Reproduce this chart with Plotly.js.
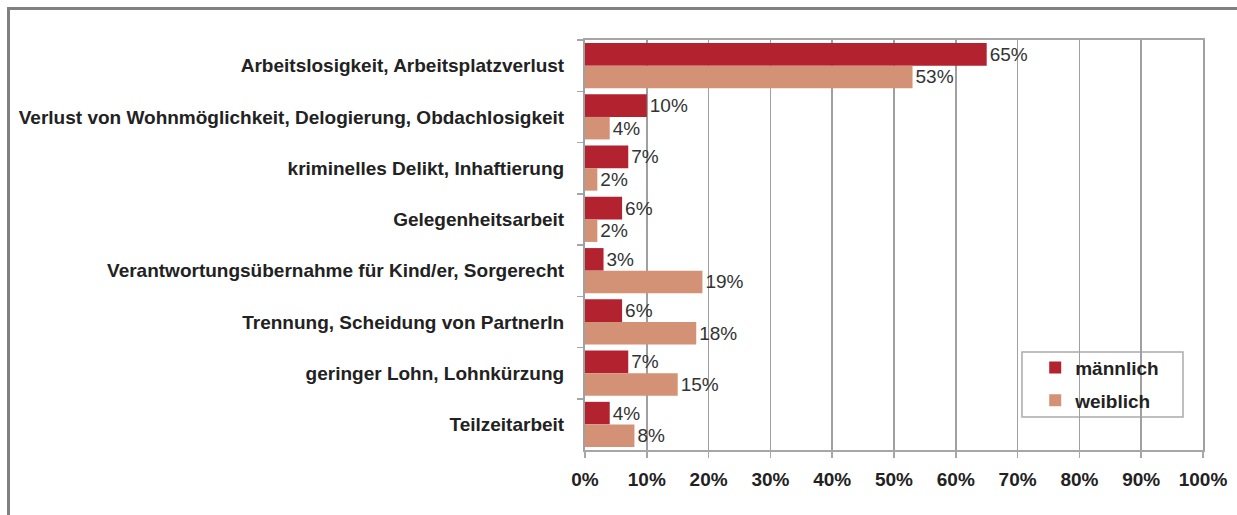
<!DOCTYPE html>
<html>
<head>
<meta charset="utf-8">
<script src="https://cdn.plot.ly/plotly-3.0.1.min.js"></script>
<style>
  html, body { margin: 0; padding: 0; background: #ffffff; overflow: hidden; }
  #chart { width: 1237px; height: 515px; }
  #frame { position: absolute; left: 7px; top: 7px; width: 1300px; height: 600px;
           border-left: 3px solid #808080; border-top: 3px solid #808080; pointer-events: none; }
</style>
</head>
<body>
<div id="chart"></div>
<div id="frame"></div>
<script>
const categories = [
  "Arbeitslosigkeit, Arbeitsplatzverlust",
  "Verlust von Wohnmöglichkeit, Delogierung, Obdachlosigkeit",
  "kriminelles Delikt, Inhaftierung",
  "Gelegenheitsarbeit",
  "Verantwortungsübernahme für Kind/er, Sorgerecht",
  "Trennung, Scheidung von PartnerIn",
  "geringer Lohn, Lohnkürzung",
  "Teilzeitarbeit"
];
const maennlich = [65, 10, 7, 6, 3, 6, 7, 4];
const weiblich = [53, 4, 2, 2, 19, 18, 15, 8];
const seriesNames = ["männlich", "weiblich"];
const xTickValues = [0, 10, 20, 30, 40, 50, 60, 70, 80, 90, 100];

const FAM = "Liberation Sans, Arial, sans-serif";
const labelFont = { family: FAM, size: 19, color: "#333333" };

const traces = [
  {
    type: "bar", orientation: "h", name: seriesNames[0], legendgroup: "m",
    y: categories, x: maennlich,
    marker: { color: "#B2222F" },
    text: maennlich.map(v => v + "%"), textposition: "outside",
    textfont: labelFont, cliponaxis: false, hoverinfo: "skip"
  },
  {
    type: "bar", orientation: "h", name: seriesNames[1], legendgroup: "w",
    y: categories, x: weiblich,
    marker: { color: "#D39276" },
    text: weiblich.map(v => v + "%"), textposition: "outside",
    textfont: labelFont, cliponaxis: false, hoverinfo: "skip"
  }
];

const layout = {
  width: 1237, height: 515,
  margin: { l: 585, r: 34, t: 40, b: 65, pad: 0 },
  paper_bgcolor: "#ffffff", plot_bgcolor: "#ffffff",
  font: { family: FAM, color: "#222222" },
  barmode: "group", bargap: 0.12, bargroupgap: 0,
  showlegend: true,
  legend: {
    x: 0.7285, y: 0.247, xanchor: "left", yanchor: "top",
    borderwidth: 0, bgcolor: "rgba(0,0,0,0)",
    traceorder: "grouped", tracegroupgap: 5,
    font: { family: FAM, size: 19, color: "#222222", weight: "bold" },
    itemwidth: 30
  },
  shapes: [
    { type: "rect", xref: "paper", yref: "paper", layer: "below",
      x0: 0.7071, x1: 0.9676, y0: 0.0805, y1: 0.239,
      line: { color: "#aaaaaa", width: 1.5 }, fillcolor: "#ffffff" }
  ],
  xaxis: {
    range: [0, 100], tickvals: xTickValues, ticktext: xTickValues.map(v => v + "%"),
    showgrid: true, gridcolor: "#a0a0a0", gridwidth: 1.5,
    zeroline: false, showline: true, linecolor: "#a6a6a6", linewidth: 2, mirror: true,
    ticks: "outside", ticklen: 6, tickcolor: "#a6a6a6", tickwidth: 1.5,
    ticklabelstandoff: 5,
    tickfont: { family: FAM, size: 19, color: "#222222", weight: "bold" },
    fixedrange: true
  },
  yaxis: {
    type: "category", autorange: "reversed",
    showgrid: false, zeroline: false,
    showline: true, linecolor: "#a0a0a0", linewidth: 2, mirror: true,
    ticks: "outside", tickson: "boundaries", ticklen: 6, tickcolor: "#a6a6a6", tickwidth: 1.5,
    ticklabelstandoff: 15,
    tickfont: { family: FAM, size: 19, color: "#222222", weight: "bold" },
    fixedrange: true
  }
};

Plotly.newPlot("chart", traces, layout, { displayModeBar: false, staticPlot: true });
</script>
</body>
</html>
